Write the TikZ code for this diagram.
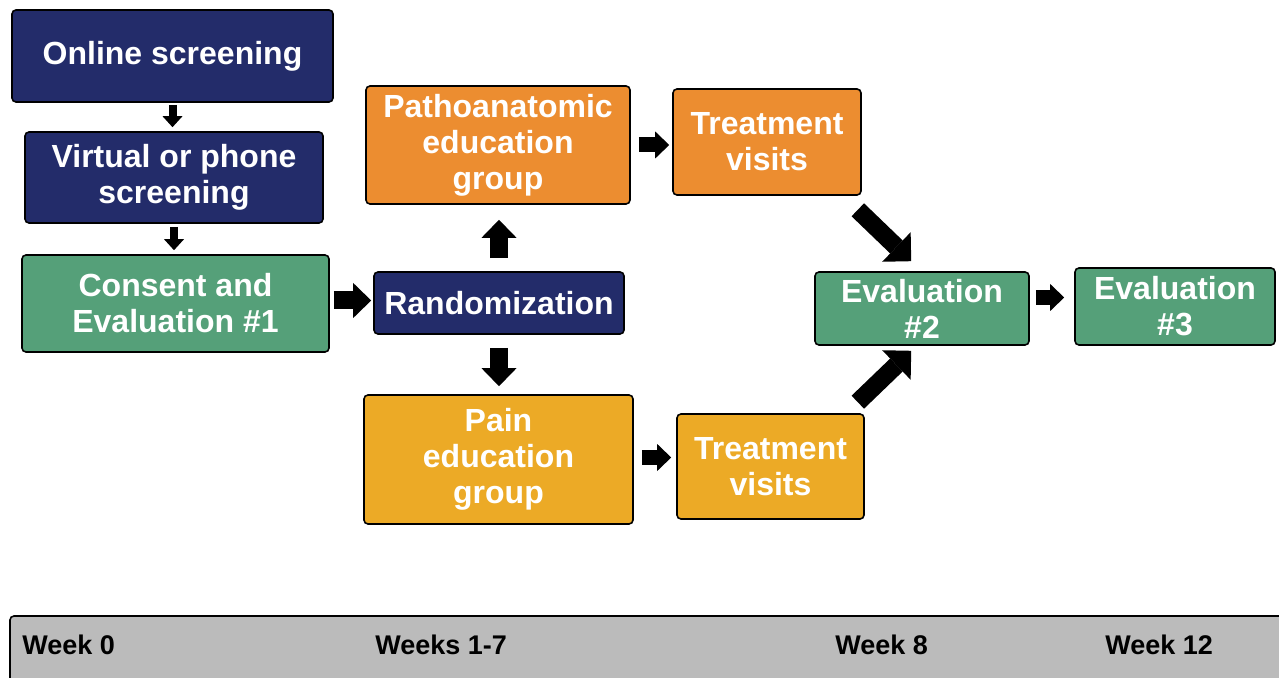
\documentclass[tikz,border=0pt]{standalone}
\usepackage{fontspec}
\setmainfont{Liberation Sans}
\usetikzlibrary{arrows.meta,calc}
\definecolor{navy}{RGB}{35,44,106}
\definecolor{sage}{RGB}{85,160,121}
\definecolor{tangerine}{RGB}{236,141,48}
\definecolor{amber}{RGB}{236,170,38}
\definecolor{bargray}{RGB}{187,187,187}
\begin{document}
\begin{tikzpicture}[x=.5pt,y=-.5pt,
  box/.style={draw=black,line width=.8pt,rounded corners=2pt,text=white,align=center,
    inner sep=0pt,font=\bfseries\fontsize{16}{18}\selectfont},
  week/.style={anchor=west,inner sep=0pt,font=\bfseries\fontsize{13.5}{16}\selectfont},
  arrS/.style={line width=4pt,-{Triangle[width=10pt,length=5.5pt,line width=0pt]}},
  arrM/.style={line width=7.5pt,-{Triangle[width=13.5pt,length=7pt,line width=0pt]}},
  arrL/.style={line width=9pt,-{Triangle[width=17.5pt,length=9pt,line width=0pt]}},
  arrD/.style={line width=9pt,-{Triangle[width=20.5pt,length=10.25pt,line width=0pt]}}]
  \useasboundingbox (0,0) rectangle (1279,678);
  \node[box,fill=navy,minimum width=160.5pt,minimum height=46pt] (online) at (172.5,56) {Online screening};
  \node[box,fill=navy,minimum width=149pt,minimum height=45.5pt] (virtual) at (174,177.5) {Virtual or phone\\screening};
  \node[box,fill=sage,minimum width=153.5pt,minimum height=48.5pt] (consent) at (175.5,303.5) {Consent and\\Evaluation \#1};
  \node[box,fill=navy,minimum width=125pt,minimum height=31pt] (rand) at (499,303) {Randomization};
  \node[box,fill=tangerine,minimum width=132pt,minimum height=59pt] (patho) at (498,145) {Pathoanatomic\\education\\group};
  \node[box,fill=tangerine,minimum width=94pt,minimum height=53pt] (ttop) at (767,142) {Treatment\\visits};
  \node[box,fill=amber,minimum width=134.5pt,minimum height=64.5pt] (pain) at (498.5,459.5) {Pain\\education\\group};
  \node[box,fill=amber,minimum width=93.5pt,minimum height=52.5pt] (tbot) at (770.5,466.5) {Treatment\\visits};
  \node[box,fill=sage,minimum width=107pt,minimum height=36.5pt] (ev2) at (922,308.5) {Evaluation\\\#2};
  \node[box,fill=sage,minimum width=100pt,minimum height=38.5pt] (ev3) at (1175,306.5) {Evaluation\\\#3};

  \draw[arrS,shorten <=1pt,shorten >=2pt] (online.south) -- (online.south |- virtual.north);
  \draw[arrS,shorten <=1.5pt,shorten >=2pt] (virtual.south) -- (virtual.south |- consent.north);
  \draw[arrL,shorten <=2pt,shorten >=1pt] ([yshift=1.5pt]consent.east) -- ([yshift=1.5pt]consent.east -| rand.west);
  \draw[arrL,shorten <=6.5pt,shorten >=7.5pt] (rand.north) -- (rand.north |- patho.south);
  \draw[arrL,shorten <=6.5pt,shorten >=4pt] (rand.south) -- (rand.south |- pain.north);
  \draw[arrM,shorten <=4pt,shorten >=1.5pt] (patho.east) -- (patho.east -| ttop.west);
  \draw[arrM,shorten <=4pt,shorten >=2.5pt] ([yshift=1pt]pain.east) -- ([yshift=1pt]pain.east -| tbot.west);
  \draw[arrD] ($(ttop.south east)+(-4,14)$) -- ($(ev2.north west)+(97,-10)$);
  \draw[arrD] ($(tbot.north east)+(-7,-11)$) -- ($(ev2.south west)+(97,5)$);
  \draw[arrM,shorten <=3pt,shorten >=5pt] ([yshift=5.5pt]ev2.east) -- ([yshift=5.5pt]ev2.east -| ev3.west);

  \draw[fill=bargray,line width=.8pt,rounded corners=2pt] (10,616) rectangle (1300,700);
  \node[week] (w0) at (22,645) {Week 0};
  \node[week] (w17) at (375,645) {Weeks 1-7};
  \node[week] (w8) at (835,645) {Week 8};
  \node[week] (w12) at (1105,645) {Week 12};
\end{tikzpicture}
\end{document}
